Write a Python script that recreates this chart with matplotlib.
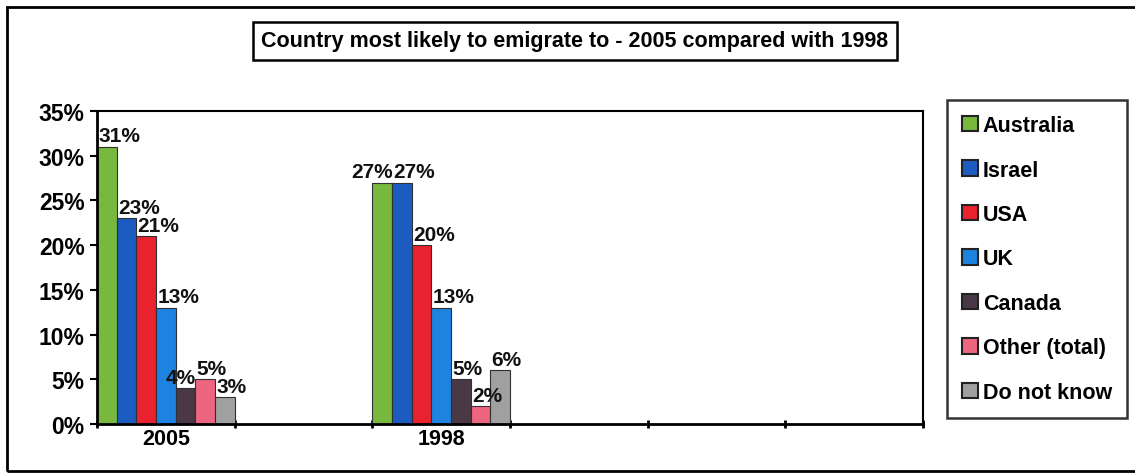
import matplotlib
matplotlib.use("Agg")
import matplotlib.pyplot as plt
from matplotlib.patches import Rectangle

plt.rcParams['font.family'] = ['Liberation Sans', 'DejaVu Sans']
plt.rcParams['font.weight'] = 'bold'

# Survey categories (x axis) and answer series
categories = ["2005", "", "1998", "", "", ""]
series_names = ["Australia", "Israel", "USA", "UK", "Canada", "Other (total)", "Do not know"]
values_2005 = [31, 23, 21, 13, 4, 5, 3]
values_1998 = [27, 27, 20, 13, 5, 2, 6]
y_ticks = [0, 5, 10, 15, 20, 25, 30, 35]
title = "Country most likely to emigrate to - 2005 compared with 1998"

colors = ["#78b83c", "#1c5cc0", "#e8222e", "#1e82e0", "#4a3846", "#ee6580", "#a0a0a0"]

W, H = 1135, 477
fig = plt.figure(figsize=(W / 100, H / 100), dpi=100)

def fx(px):
    return px / W

def fy(py):
    return 1 - py / H

ax = fig.add_axes([fx(97), fy(425), fx(923) - fx(97), fy(112) - fy(425)])

n = len(series_names)
bw = 1.0 / n
group_values = {0: values_2005, 2: values_1998}
labels_by_group = {g: [] for g in group_values}
for i, name in enumerate(series_names):
    xs, hs = [], []
    for gi, vals in group_values.items():
        xs.append(gi - 0.5 + bw * (i + 0.5))
        hs.append(vals[i])
    ax.bar(xs, hs, width=bw, color=colors[i], edgecolor="#303030",
           linewidth=0.8, label=name, zorder=2)
    for gi, x, h in zip(group_values, xs, hs):
        t = ax.annotate(f"{h}%", (x - bw / 2, h), xytext=(1, 1),
                        textcoords="offset points", ha="left", va="bottom",
                        fontsize=15, fontweight="bold", color="#111111", zorder=3)
        labels_by_group[gi].append(t)

ax.set_xlim(-0.5, len(categories) - 0.5)
ax.set_ylim(0, 35)
ax.set_yticks(y_ticks)
ax.set_yticklabels([f"{t}%" for t in y_ticks], fontsize=16.5, fontweight="bold")

# category boundaries carry the tick marks, centres carry the labels
ax.set_xticks([k - 0.5 for k in range(len(categories) + 1)], minor=True)
ax.set_xticks(range(len(categories)))
ax.set_xticklabels(categories, fontsize=15.5, fontweight="bold")
ax.tick_params(axis="x", which="major", length=0, pad=3)
ax.tick_params(axis="x", which="minor", length=6, width=2, direction="inout")
ax.tick_params(axis="y", length=5, width=1.5, direction="out", pad=4)

for side in ["left", "bottom"]:
    ax.spines[side].set_linewidth(2)
for side in ["top", "right"]:
    ax.spines[side].set_linewidth(1.5)

# overlapping neighbouring labels: push the left one aside so both stay readable
fig.canvas.draw()
renderer = fig.canvas.get_renderer()
for gi, items in labels_by_group.items():
    for t1, t2 in zip(items[:-1], items[1:]):
        b1 = t1.get_window_extent(renderer)
        b2 = t2.get_window_extent(renderer)
        v_overlap = min(b1.y1, b2.y1) - max(b1.y0, b2.y0)
        overlap = b1.x1 - b2.x0
        if overlap > 0 and v_overlap > 2:
            dx, dy = t1.xyann
            t1.xyann = (dx - (overlap + 1) * 72 / fig.dpi, dy)

# title box
fig.text(fx(575), fy(42), title, ha="center", va="center", fontsize=15.5,
         fontweight="bold",
         bbox=dict(boxstyle="square,pad=0.38", facecolor="white",
                   edgecolor="black", linewidth=1.8))

# legend
leg_handles = [Rectangle((0, 0), 1, 1, facecolor=c, edgecolor="#222222", linewidth=1.5)
               for c in colors]
leg = fig.legend(leg_handles, series_names, loc="upper left",
                 bbox_to_anchor=(fx(947), fy(101)), frameon=True, fancybox=False,
                 prop={"weight": "bold", "size": 15.5},
                 handlelength=0.72, handleheight=0.72, handletextpad=0.25,
                 labelspacing=1.09, borderpad=0.7, borderaxespad=0)
leg.get_frame().set_edgecolor("black")
leg.get_frame().set_linewidth(1.8)

# outer chart border
fig.add_artist(Rectangle((fx(7), fy(472)), fx(1160) - fx(7), fy(8) - fy(472),
                         transform=fig.transFigure, fill=False,
                         edgecolor="black", linewidth=2))

fig.savefig("out.png", dpi=100)
